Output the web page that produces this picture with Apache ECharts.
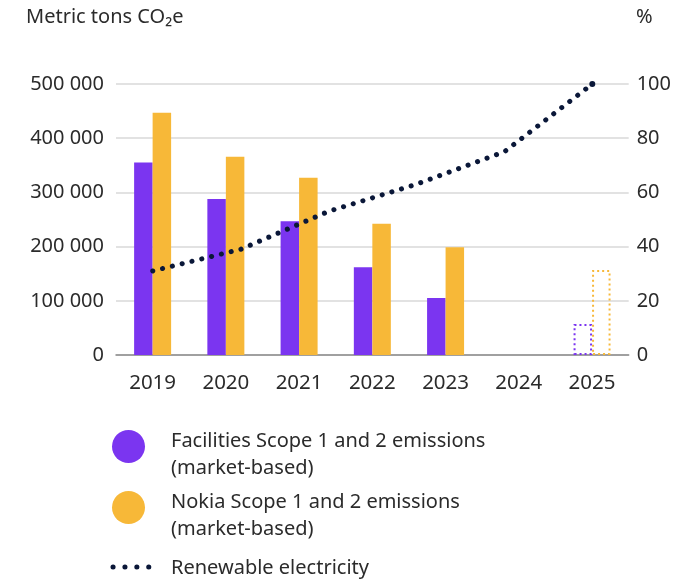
<!DOCTYPE html>
<html>
<head>
<meta charset="utf-8">
<script src="https://cdn.jsdelivr.net/npm/echarts@6/dist/echarts.min.js"></script>
<style>
  html, body { margin: 0; padding: 0; background: #fff; }
  #chart { width: 674px; height: 580px; }
</style>
</head>
<body>
<div id="chart"></div>
<script>
// Emission categories and values (metric tons CO2e)
const years = ['2019', '2020', '2021', '2022', '2023', '2024', '2025'];
const facilitiesEmissions = [355000, 288000, 247000, 162000, 105000, null, 57000];
const nokiaEmissions = [447000, 366000, 327000, 242000, 199000, null, 157000];
const targetYear = '2025';

// Renewable electricity share (%), six evenly spaced steps from 2019 to 2025
const renewableSteps = ['2019', 'step2', 'step3', 'step4', 'step5', '2025'];
const renewableShare = [31, 39, 53, 63, 75, 100];

// Axis ticks
const leftTicks = { min: 0, max: 500000, interval: 100000 };
const rightTicks = { min: 0, max: 100, interval: 20 };

const seriesNames = {
  facilities: 'Facilities Scope 1 and 2 emissions\n(market-based)',
  nokia: 'Nokia Scope 1 and 2 emissions\n(market-based)',
  renewable: 'Renewable electricity'
};

const PURPLE = '#7b35f0';
const YELLOW = '#f7b838';
const NAVY = '#0a1738';
const TEXT = '#2b2b2b';
const FONT = 'Noto Sans';
const FONT_CSS = '20px "Noto Sans"';

const fmt = v => String(v).replace(/\B(?=(\d{3})+(?!\d))/g, ' ');

function barData(values, color) {
  return values.map((v, i) => {
    if (years[i] === targetYear) {
      return {
        value: v,
        itemStyle: {
          color: 'rgba(0,0,0,0)',
          borderColor: color,
          borderWidth: 2,
          borderType: [2, 3]
        }
      };
    }
    return v;
  });
}

// Line ends on a visible dot at its final value
const renewableData = renewableShare.map((v, i) =>
  i === renewableShare.length - 1 ? { value: v, symbol: 'circle', symbolSize: 6 } : v
);

const chart = echarts.init(document.getElementById('chart'), null, { renderer: 'canvas' });

chart.setOption({
  animation: false,
  textStyle: { fontFamily: FONT },
  grid: [
    { left: 116, right: 45, top: 84, bottom: 225 },
    { left: 152.7, right: 81.7, top: 84, bottom: 225 }
  ],
  xAxis: [
    {
      type: 'category',
      gridIndex: 0,
      data: years,
      axisTick: { show: false },
      axisLine: { lineStyle: { color: '#8a8a8a', width: 1.5 } },
      axisLabel: { color: TEXT, fontSize: 20.5, margin: 18, fontFamily: FONT }
    },
    {
      type: 'category',
      gridIndex: 1,
      data: renewableSteps,
      boundaryGap: false,
      show: false
    }
  ],
  yAxis: [
    {
      type: 'value',
      gridIndex: 0,
      min: leftTicks.min,
      max: leftTicks.max,
      interval: leftTicks.interval,
      axisLine: { show: false },
      axisTick: { show: false },
      splitLine: { lineStyle: { color: '#d8d8d8', width: 1.5 } },
      axisLabel: { color: TEXT, fontSize: 20, margin: 12, fontFamily: FONT, formatter: fmt }
    },
    {
      type: 'value',
      gridIndex: 0,
      position: 'right',
      min: rightTicks.min,
      max: rightTicks.max,
      interval: rightTicks.interval,
      axisLine: { show: false },
      axisTick: { show: false },
      splitLine: { show: false },
      axisLabel: { color: TEXT, fontSize: 20, margin: 8, fontFamily: FONT }
    },
    {
      type: 'value',
      gridIndex: 1,
      min: rightTicks.min,
      max: rightTicks.max,
      show: false
    }
  ],
  series: [
    {
      name: seriesNames.facilities,
      type: 'bar',
      xAxisIndex: 0,
      yAxisIndex: 0,
      barWidth: 18.5,
      barGap: '0%',
      itemStyle: { color: PURPLE },
      data: barData(facilitiesEmissions, PURPLE)
    },
    {
      name: seriesNames.nokia,
      type: 'bar',
      xAxisIndex: 0,
      yAxisIndex: 0,
      barWidth: 18.5,
      barGap: '0%',
      itemStyle: { color: YELLOW },
      data: barData(nokiaEmissions, YELLOW)
    },
    {
      name: seriesNames.renewable,
      type: 'line',
      xAxisIndex: 1,
      yAxisIndex: 2,
      symbol: 'none',
      itemStyle: { color: NAVY },
      lineStyle: { color: NAVY, width: 5, type: [0.1, 10], cap: 'round' },
      data: renewableData
    }
  ],
  graphic: [
    { type: 'text', left: 26, top: 7, style: { text: 'Metric tons CO₂e', fill: TEXT, font: FONT_CSS } },
    { type: 'text', left: 636, top: 7, style: { text: '%', fill: TEXT, font: FONT_CSS } },
    // legend
    { type: 'circle', shape: { cx: 128.5, cy: 446.5, r: 16.5 }, style: { fill: PURPLE } },
    { type: 'text', left: 171, top: 428, style: { text: seriesNames.facilities, fill: TEXT, font: FONT_CSS, lineHeight: 27 } },
    { type: 'circle', shape: { cx: 128.5, cy: 507.5, r: 16.5 }, style: { fill: YELLOW } },
    { type: 'text', left: 171, top: 489, style: { text: seriesNames.nokia, fill: TEXT, font: FONT_CSS, lineHeight: 27 } },
    { type: 'line', shape: { x1: 113, y1: 567, x2: 149, y2: 567 }, style: { stroke: NAVY, lineWidth: 5, lineDash: [0.1, 11.8], lineCap: 'round' } },
    { type: 'text', left: 171, top: 555, style: { text: seriesNames.renewable, fill: TEXT, font: FONT_CSS, lineHeight: 27 } }
  ]
});
</script>
</body>
</html>
